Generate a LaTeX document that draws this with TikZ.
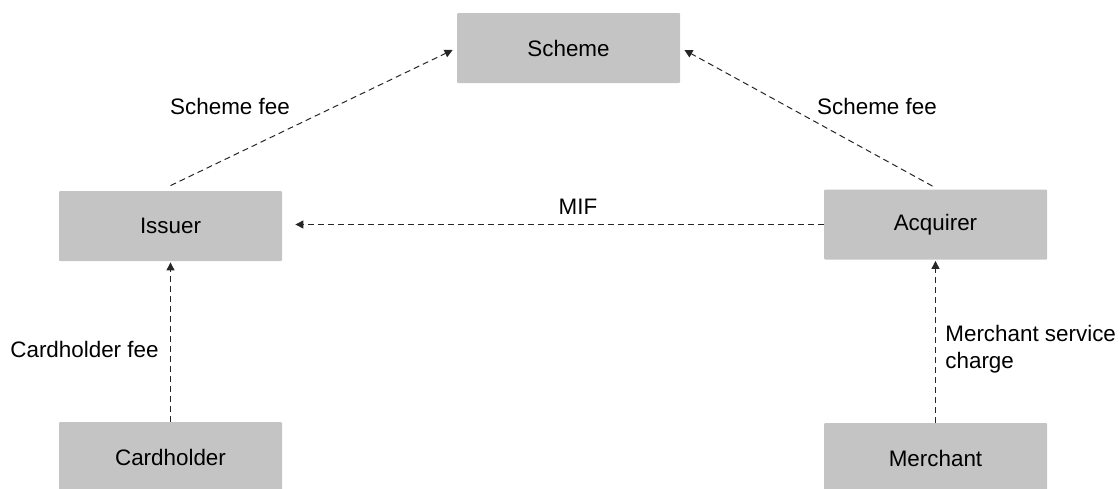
\documentclass[tikz,border=0pt]{standalone}
\usepackage{fontspec}
\setmainfont{Liberation Sans}
\usetikzlibrary{arrows.meta,calc}
\definecolor{boxgray}{RGB}{196,196,196}
\begin{document}
\begin{tikzpicture}[x=0.5pt,y=-0.5pt,
  party/.style={fill=boxgray,draw=none,rounded corners=0.5pt,minimum width=111.5pt,minimum height=35pt,inner sep=0pt,font=\fontsize{11.2}{13.4}\selectfont},
  flow/.style={densely dashed,line width=0.5pt,black!85,-{Triangle[length=4pt,width=4pt]}},
  lbl/.style={font=\fontsize{11.2}{13.4}\selectfont,inner sep=0pt}]
\useasboundingbox (0,0) rectangle (1120,488);
% parties
\node[party] (scheme) at (568.5,48) {Scheme};
\node[party] (issuer) at (170.5,226) {Issuer};
\node[party] (acquirer) at (935.5,224.5) {Acquirer};
\node[party] (cardholder) at (170.5,457) {Cardholder};
\node[party] (merchant) at (935.5,458) {Merchant};
% fee flows
\coordinate (issTop) at ($(issuer.north)+(0,-5)$);
\coordinate (acqTop) at ($(acquirer.north)+(-3,-3)$);
\coordinate (schL) at ($(scheme.west)+(-4,2)$);
\coordinate (schR) at ($(scheme.east)+(4,2)$);
\draw[flow] (issTop) -- (schL);
\draw[flow] (acqTop) -- (schR);
\draw[flow,shorten >=6.5pt] (acquirer.west) -- (issuer.east |- acquirer.west);
\draw[flow,shorten >=0.5pt] (cardholder.north) -- (issuer.south);
\draw[flow,shorten >=0.5pt] (merchant.north) -- (acquirer.south);
% labels
\node[lbl] (feeL) at (230,106) {Scheme fee};
\node[lbl] (feeR) at (877,106) {Scheme fee};
\node[lbl] (mif) at (578,207) {MIF};
\node[lbl,anchor=west] (chfee) at (10,349) {Cardholder fee};
\node[lbl,anchor=west,align=left] (msc) at (945,349) {Merchant service\\charge};
\end{tikzpicture}
\end{document}
